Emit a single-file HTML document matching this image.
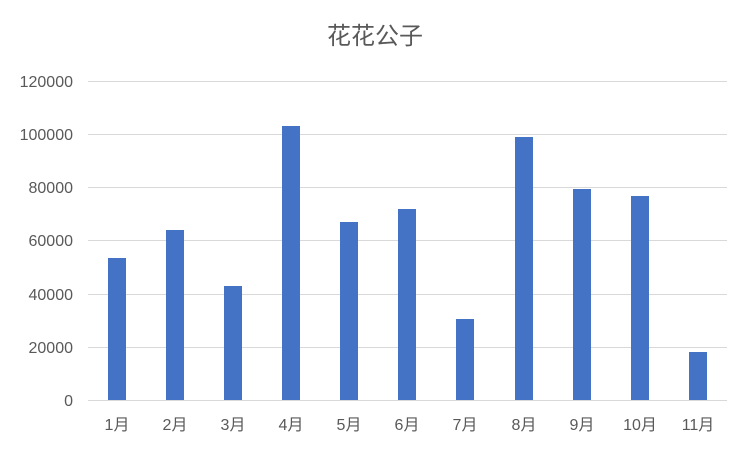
<!DOCTYPE html>
<html><head><meta charset="utf-8"><style>
body{margin:0;background:#fff;}
svg text{font-family:"Liberation Sans","Noto Sans CJK SC",sans-serif;fill:#595959;}
</style></head><body>
<svg width="750" height="449" xmlns="http://www.w3.org/2000/svg">
<rect width="750" height="449" fill="#fff"/>
<text x="375" y="44" font-size="24" text-anchor="middle">花花公子</text>
<g stroke="#d9d9d9" stroke-width="1">
<line x1="88" x2="727" y1="81.5" y2="81.5"/>
<line x1="88" x2="727" y1="134.5" y2="134.5"/>
<line x1="88" x2="727" y1="187.5" y2="187.5"/>
<line x1="88" x2="727" y1="240.5" y2="240.5"/>
<line x1="88" x2="727" y1="294.5" y2="294.5"/>
<line x1="88" x2="727" y1="347.5" y2="347.5"/>
<line x1="88" x2="727" y1="400.5" y2="400.5"/>
</g>
<g font-size="16" text-anchor="end">
<text x="73" y="87">120000</text>
<text x="73" y="140">100000</text>
<text x="73" y="193">80000</text>
<text x="73" y="246">60000</text>
<text x="73" y="300">40000</text>
<text x="73" y="353">20000</text>
<text x="73" y="406">0</text>
</g>
<g fill="#4472c4">
<rect x="108" y="258" width="18" height="142"/>
<rect x="166" y="230" width="18" height="170"/>
<rect x="224" y="286" width="18" height="114"/>
<rect x="282" y="126" width="18" height="274"/>
<rect x="340" y="222" width="18" height="178"/>
<rect x="398" y="209" width="18" height="191"/>
<rect x="456" y="319" width="18" height="81"/>
<rect x="515" y="137" width="18" height="263"/>
<rect x="573" y="189" width="18" height="211"/>
<rect x="631" y="196" width="18" height="204"/>
<rect x="689" y="352" width="18" height="48"/>
</g>
<g font-size="16" text-anchor="middle">
<text x="117" y="430">1月</text>
<text x="175" y="430">2月</text>
<text x="233" y="430">3月</text>
<text x="291" y="430">4月</text>
<text x="349" y="430">5月</text>
<text x="407" y="430">6月</text>
<text x="465" y="430">7月</text>
<text x="524" y="430">8月</text>
<text x="582" y="430">9月</text>
<text x="640" y="430">10月</text>
<text x="698" y="430">11月</text>
</g>
</svg>
</body></html>
